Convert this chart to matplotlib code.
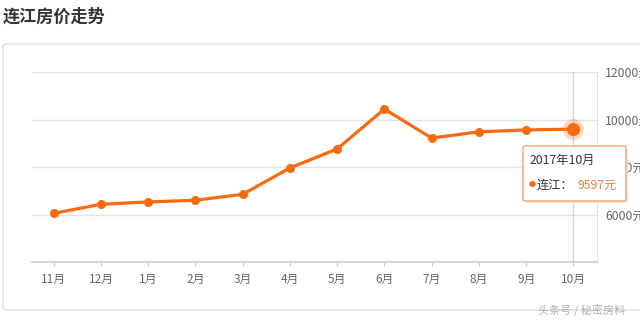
import matplotlib
matplotlib.use("Agg")
import matplotlib.pyplot as plt
from matplotlib.patches import FancyBboxPatch

plt.rcParams["font.family"] = ["Noto Sans CJK SC", "DejaVu Sans"]

# data
months = ["11月", "12月", "1月", "2月", "3月", "4月", "5月", "6月", "7月", "8月", "9月", "10月"]
prices = [6050, 6430, 6530, 6600, 6850, 7960, 8760, 10440, 9220, 9480, 9560, 9597]
y_ticks = [6000, 8000, 10000, 12000]
y_labels = ["6000元", "8000元", "10000元", "12000元"]
tip_title = "2017年10月"
series_name = "连江"

ORANGE = "#f96a0e"
GRID = "#e3e3e3"
TEXT = "#666666"

fig = plt.figure(figsize=(6.4, 3.2), dpi=100)
fig.patch.set_facecolor("white")

# title + panel frame
fig.text(3 / 640, 1 - 17 / 320, "连江房价走势", fontsize=12.3, fontweight="bold",
         color="#333333", va="center", ha="left")
panel = FancyBboxPatch((3 / 640, 1 - 310 / 320), 700 / 640, 266 / 320,
                       boxstyle="round,pad=0,rounding_size=0.008",
                       transform=fig.transFigure, facecolor="white",
                       edgecolor="#e0e0e0", linewidth=1.0, zorder=-5)
fig.patches.append(panel)

ax = fig.add_axes([32 / 640, 1 - 262 / 320, 565 / 640, 190 / 320])
ax.set_facecolor("none")
ax.set_zorder(1)
x = list(range(len(months)))

ax.plot(x, prices, color=ORANGE, linewidth=2.3, marker="o", markersize=5.5,
        zorder=4, solid_capstyle="round")
# highlighted last point
ax.plot(x[-1], prices[-1], "o", markersize=15, color=ORANGE, alpha=0.25,
        markeredgewidth=0, zorder=5)
ax.plot(x[-1], prices[-1], "o", markersize=8.5, color=ORANGE, zorder=6)
ax.axvline(x[-1], color="#d6d6d6", linewidth=1.0, zorder=2)

ax.set_xlim(-0.46, 11.5)
ax.set_ylim(4000, 12000)
ax.set_xticks(x)
ax.set_xticklabels(months, fontsize=8.5, color=TEXT)
ax.set_yticks(y_ticks)
ax.set_yticklabels(y_labels, fontsize=8.8, color=TEXT)
ax.yaxis.tick_right()
ax.tick_params(axis="y", length=0, pad=6)
ax.tick_params(axis="x", length=3, color="#cccccc", pad=5)
ax.grid(axis="y", color=GRID, linewidth=1.0, zorder=1)

for s in ["top", "left"]:
    ax.spines[s].set_visible(False)
ax.spines["right"].set_color(GRID)
ax.spines["bottom"].set_color("#d0d0d0")
ax.spines["bottom"].set_linewidth(1.3)

# tooltip (drawn over the axes)
tip = FancyBboxPatch((523 / 640, 1 - 201 / 320), 103 / 640, 55 / 320,
                     boxstyle="round,pad=0,rounding_size=0.005",
                     transform=fig.transFigure, facecolor="white",
                     edgecolor="#f4a46c", linewidth=1.0, zorder=10)
shadow = FancyBboxPatch((525 / 640, 1 - 203 / 320), 103 / 640, 55 / 320,
                        boxstyle="round,pad=0,rounding_size=0.005",
                        transform=fig.transFigure, facecolor="#e8e8e8",
                        edgecolor="none", zorder=9)
fig.patches.extend([shadow, tip])
fig.text(530 / 640, 1 - 160 / 320, tip_title, fontsize=8.8, color="#333333",
         va="center", ha="left", zorder=11)
fig.text(532 / 640, 1 - 185 / 320, "●", fontsize=5, color=ORANGE,
         va="center", ha="center", zorder=11)
fig.text(537 / 640, 1 - 185 / 320, f"{series_name}：", fontsize=8.8, color="#333333",
         va="center", ha="left", zorder=11)
fig.text(578 / 640, 1 - 185 / 320, f"{prices[-1]}元", fontsize=8.8, color="#f3793a",
         va="center", ha="left", zorder=11)

# watermark
fig.text(625 / 640, 1 - 311 / 320, "头条号 / 秘密房料", fontsize=8, color="#b0b0b0",
         va="center", ha="right", zorder=12)

fig.savefig("out.png", dpi=100, facecolor="white")
